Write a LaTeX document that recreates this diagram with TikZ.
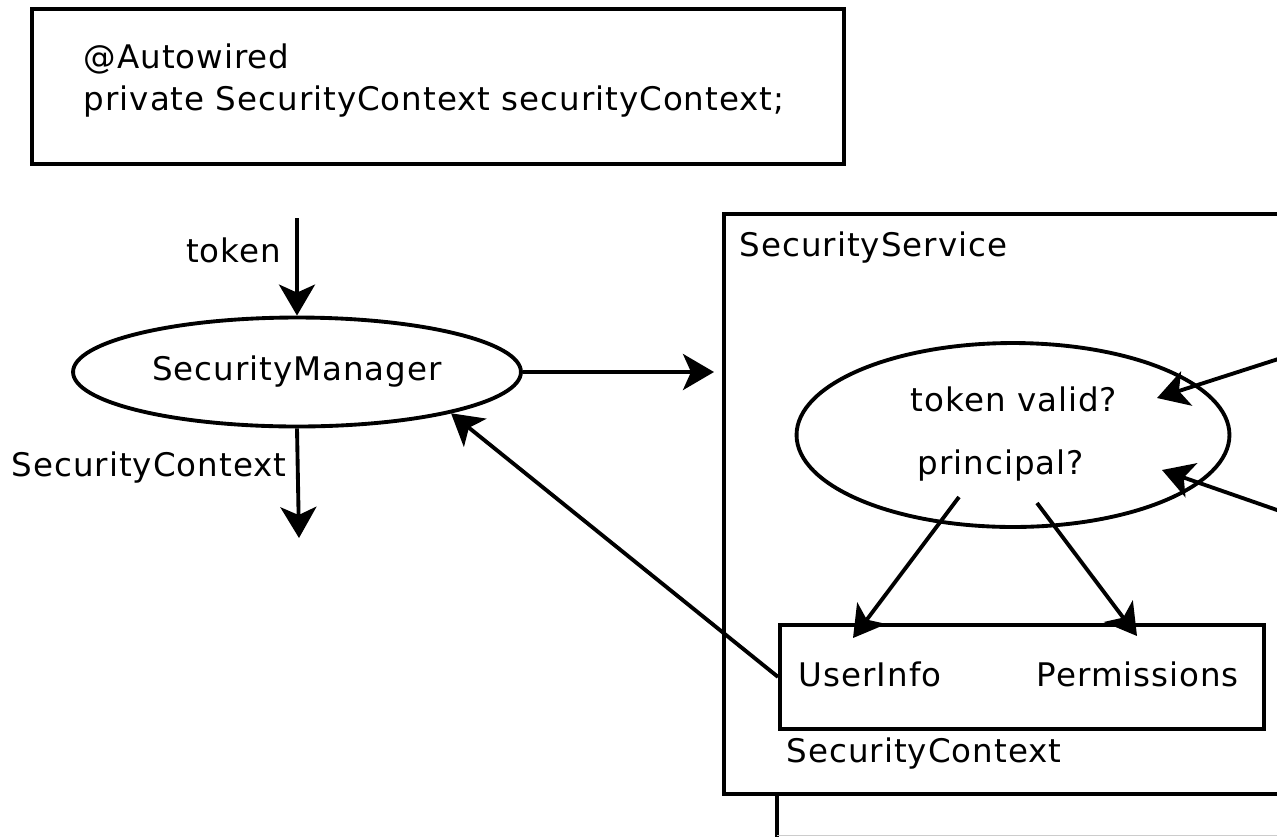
\documentclass[tikz,border=0pt]{standalone}
\usepackage{fontspec}
\setmainfont{DejaVu Sans}[LetterSpace=3]
\usetikzlibrary{shapes.geometric,arrows.meta}
\begin{document}
\begin{tikzpicture}[x=0.02cm,y=-0.02cm,line width=2.2pt,
  every node/.style={inner sep=0pt,font=\fontsize{18.5pt}{22pt}\selectfont},
  txt/.style={anchor=base west},
  oval/.style={draw,ellipse},
  box/.style={draw,rectangle,anchor=north west},
  arr/.style={-{Stealth[length=0.62cm,width=0.72cm,inset=0.16cm]}}]
  \useasboundingbox (0,0) rectangle (1277,836);
  \clip (0,0) rectangle (1277,836);
  \node [box,minimum width=16.24cm,minimum height=3.1cm] (inj) at (30,7) {};
  \node [txt] (ann) at (82,68) {@Autowired};
  \node [txt] (decl) at (82,110) {private SecurityContext securityContext;};
  \node [oval,minimum width=8.96cm,minimum height=2.18cm] (mgr) at (297,372) {SecurityManager};
  \coordinate (tokin) at (297,218);
  \coordinate (ctxout) at (299,538);
  \draw [arr] (tokin) -- (mgr.north);
  \node [anchor=base east] (toklbl) at (283,262) {token};
  \draw [arr] (mgr.south) -- (ctxout);
  \node [txt] (outlbl) at (10,476) {SecurityContext};
  \node [box,minimum width=11.6cm,minimum height=11.6cm] (svc) at (722,212) {};
  \node [txt] (svclbl) at (738,256) {SecurityService};
  \draw [arr,shorten >=0.16cm] (mgr.east) -- (svc.west |- mgr.east);
  \node [oval,minimum width=8.66cm,minimum height=3.68cm] (check) at (1013,435) {};
  \node [txt] (valid) at (909,411) {token valid?};
  \node [txt] (princ) at (916,474) {principal?};
  \node [box,minimum width=9.68cm,minimum height=2.08cm] (ctx) at (778,623) {};
  \node [txt] (info) at (797,686) {UserInfo};
  \node [txt] (perm) at (1035,686) {Permissions};
  \node [txt] (ctxlbl) at (785,762) {SecurityContext};
  \coordinate (c1) at (959,497);
  \coordinate (c2) at (1037,503);
  \coordinate (t1) at (853,638);
  \coordinate (t2) at (1137,636);
  \draw [arr] (c1) -- (t1);
  \draw [arr] (c2) -- (t2);
  \draw [arr] (ctx.west) -- (mgr.-15);
  \coordinate (r1) at (1300,352);
  \coordinate (r2) at (1300,518);
  \coordinate (in1) at (1157,398);
  \coordinate (in2) at (1162,470);
  \draw [arr] (r1) -- (in1);
  \draw [arr] (r2) -- (in2);
  \draw (777,792) -- (777,840);
  \draw [gray!40,line width=1pt] (777,835.5) -- (1300,835.5);
\end{tikzpicture}
\end{document}
